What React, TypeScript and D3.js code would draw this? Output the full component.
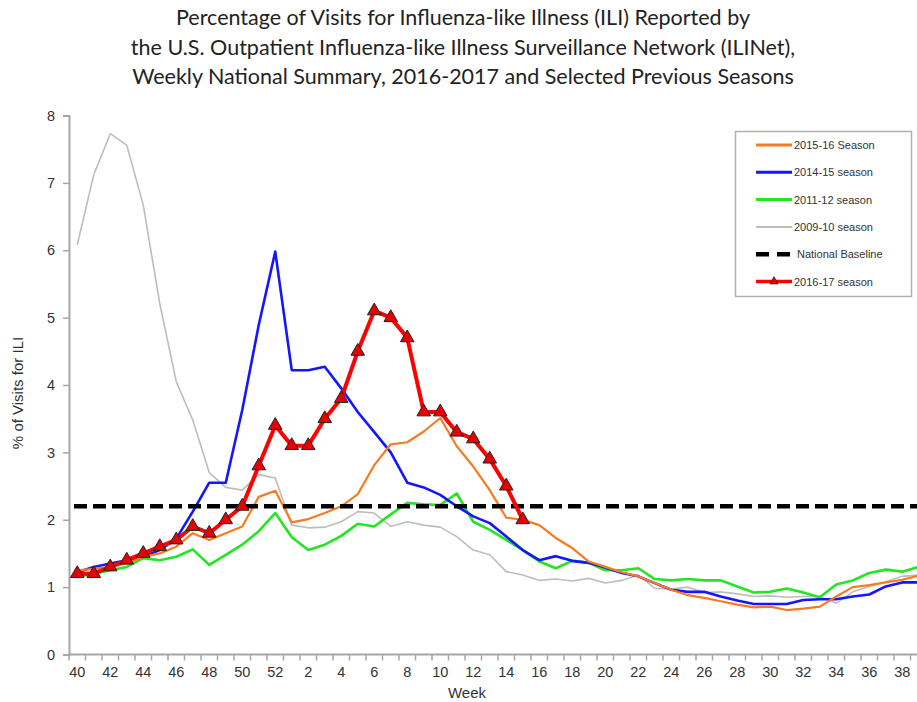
import React, { useEffect, useRef } from 'react'
import * as d3 from 'd3'

// week order of a flu season (week 40 .. week 39)
const weeks = ['40','41','42','43','44','45','46','47','48','49','50','51','52',
  '1','2','3','4','5','6','7','8','9','10','11','12','13','14','15','16','17','18','19','20',
  '21','22','23','24','25','26','27','28','29','30','31','32','33','34','35','36','37','38','39']

const tickLabels = ['40','42','44','46','48','50','52','2','4','6','8','10','12','14','16','18','20',
  '22','24','26','28','30','32','34','36','38']

const season2016 = [1.2,1.2,1.3,1.4,1.5,1.6,1.7,1.9,1.8,2.0,2.2,2.8,3.4,3.1,3.1,3.5,3.8,4.5,5.1,5.0,
  4.7,3.6,3.6,3.3,3.2,2.9,2.5,2.0]

const season2015 = [1.25,1.27,1.3,1.35,1.45,1.5,1.6,1.8,1.7,1.8,1.9,2.34,2.43,
  1.96,2.01,2.1,2.2,2.38,2.81,3.12,3.15,3.31,3.51,3.09,2.79,2.44,2.03,2.0,1.92,1.73,1.58,1.38,1.30,
  1.22,1.16,1.06,0.96,0.88,0.84,0.79,0.74,0.70,0.71,0.66,0.68,0.71,0.86,1.0,1.03,1.07,1.11,1.17]

const season2014 = [1.22,1.3,1.35,1.4,1.45,1.55,1.72,2.12,2.55,2.55,3.63,4.89,5.98,
  4.22,4.22,4.27,3.95,3.6,3.3,3.0,2.55,2.48,2.37,2.2,2.05,1.95,1.75,1.55,1.4,1.46,1.39,1.36,1.29,
  1.21,1.16,1.06,0.96,0.93,0.93,0.86,0.8,0.75,0.75,0.75,0.81,0.82,0.82,0.86,0.89,1.01,1.07,1.07]

const season2011 = [1.15,1.2,1.25,1.3,1.43,1.4,1.45,1.56,1.33,1.48,1.63,1.83,2.1,
  1.74,1.55,1.63,1.76,1.94,1.9,2.08,2.25,2.23,2.22,2.39,1.97,1.85,1.7,1.55,1.38,1.28,1.39,1.36,1.25,
  1.25,1.28,1.12,1.1,1.12,1.1,1.1,1.01,0.92,0.93,0.98,0.92,0.85,1.04,1.1,1.21,1.26,1.23,1.3]

const season2009 = [6.08,7.12,7.73,7.56,6.67,5.21,4.05,3.48,2.7,2.48,2.44,2.67,2.62,
  1.92,1.88,1.89,1.97,2.12,2.1,1.9,1.97,1.92,1.89,1.75,1.55,1.48,1.23,1.18,1.1,1.12,1.09,1.13,1.06,
  1.1,1.18,0.98,0.97,1.0,0.92,0.93,0.9,0.86,0.87,0.85,0.86,0.86,0.76,0.93,1.01,1.08,1.16,1.18]

const baseline = 2.2

const titleLines = [
  'Percentage of Visits for Influenza-like Illness (ILI) Reported by',
  'the U.S. Outpatient Influenza-like Illness Surveillance Network (ILINet),',
  'Weekly National Summary, 2016-2017 and Selected Previous Seasons',
]

export default function App() {
  const ref = useRef<SVGSVGElement>(null)

  useEffect(() => {
    const width = 917
    const svg = d3.select(ref.current)
    svg.selectAll('*').remove()

    const x = d3.scaleBand<string>().domain(weeks).range([69, 69 + 52 * 16.5]).padding(0)
    const y = d3.scaleLinear().domain([0, 8]).range([654.5, 115.5])
    const cx = (w: string) => (x(w) as number) + x.bandwidth() / 2

    // title
    svg.append('g')
      .selectAll('text')
      .data(titleLines)
      .enter()
      .append('text')
      .attr('x', 463)
      .attr('y', (d, i) => 25 + i * 29.5)
      .attr('text-anchor', 'middle')
      .attr('font-family', 'Lato, "Open Sans", sans-serif')
      .attr('font-size', 21.5)
      .attr('fill', '#222')
      .text(d => d)

    const axisColor = '#a6a6a6'
    const fontAxis = '"Liberation Sans", Arial, sans-serif'

    // y axis
    const yAxis = svg.append('g')
      .attr('transform', 'translate(69,0)')
      .call(d3.axisLeft(y).ticks(8).tickSize(6).tickPadding(8))
    yAxis.select('.domain').attr('stroke', axisColor).attr('stroke-width', 2)
    yAxis.selectAll('.tick line').attr('stroke', axisColor).attr('stroke-width', 1.5)
    yAxis.selectAll('.tick text')
      .attr('font-family', fontAxis).attr('font-size', 14.5).attr('fill', '#333')

    // x axis: ticks on week boundaries, labels every 2 weeks
    const xg = svg.append('g')
    xg.append('line')
      .attr('x1', 68).attr('x2', width)
      .attr('y1', y(0)).attr('y2', y(0))
      .attr('stroke', axisColor).attr('stroke-width', 2)
    xg.selectAll('.tk')
      .data(weeks)
      .enter()
      .append('line')
      .attr('x1', d => x(d) as number).attr('x2', d => x(d) as number)
      .attr('y1', y(0)).attr('y2', y(0) + 6)
      .attr('stroke', axisColor).attr('stroke-width', 1.5)
    xg.selectAll('.lbl')
      .data(tickLabels)
      .enter()
      .append('text')
      .attr('x', d => cx(d))
      .attr('y', 677)
      .attr('text-anchor', 'middle')
      .attr('font-family', fontAxis).attr('font-size', 14.5).attr('fill', '#333')
      .text(d => d)

    svg.append('text')
      .attr('x', 467).attr('y', 698)
      .attr('text-anchor', 'middle')
      .attr('font-family', fontAxis).attr('font-size', 15).attr('fill', '#333')
      .text('Week')

    svg.append('text')
      .attr('transform', 'translate(23,393) rotate(-90)')
      .attr('text-anchor', 'middle')
      .attr('font-family', fontAxis).attr('font-size', 15).attr('fill', '#333')
      .text('% of Visits for ILI')

    const line = d3.line<number>()
      .x((d, i) => cx(weeks[i]))
      .y(d => y(d))

    const series = [
      { data: season2009, color: '#bdbdbd', w: 1.6 },
      { data: season2011, color: '#22e622', w: 2.6 },
      { data: season2014, color: '#1515ff', w: 2.6 },
      { data: season2015, color: '#f97a22', w: 2.2 },
    ]

    const plot = svg.append('g')
    series.forEach(s => {
      plot.append('path')
        .datum(s.data)
        .attr('d', line)
        .attr('fill', 'none')
        .attr('stroke', s.color)
        .attr('stroke-width', s.w)
        .attr('stroke-linejoin', 'round')
    })

    plot.append('line')
      .attr('x1', 74).attr('x2', width)
      .attr('y1', y(baseline)).attr('y2', y(baseline))
      .attr('stroke', '#000').attr('stroke-width', 4.5)
      .attr('stroke-dasharray', '13,6')

    plot.append('path')
      .datum(season2016)
      .attr('d', line)
      .attr('fill', 'none')
      .attr('stroke', '#ff0000')
      .attr('stroke-width', 4)
      .attr('stroke-linejoin', 'round')

    const tri = d3.symbol().type(d3.symbolTriangle).size(80)
    plot.selectAll('.mk')
      .data(season2016)
      .enter()
      .append('path')
      .attr('d', tri)
      .attr('transform', (d, i) => `translate(${cx(weeks[i])},${y(d)})`)
      .attr('fill', '#e60000')
      .attr('stroke', '#222')
      .attr('stroke-width', 1)

    // legend
    const legend = svg.append('g')
    legend.append('rect')
      .attr('x', 735.5).attr('y', 131.5).attr('width', 176).attr('height', 165)
      .attr('fill', '#fff').attr('stroke', '#b0b0b0').attr('stroke-width', 1.5)

    const legendItems = [
      { label: '2015-16 Season', color: '#f97a22', dash: null, w: 3, marker: false },
      { label: '2014-15 season', color: '#1515ff', dash: null, w: 3, marker: false },
      { label: '2011-12 season', color: '#22e622', dash: null, w: 3, marker: false },
      { label: '2009-10 season', color: '#bdbdbd', dash: null, w: 2, marker: false },
      { label: 'National Baseline', color: '#000', dash: '13,8', w: 4.5, marker: false },
      { label: '2016-17 season', color: '#ff0000', dash: null, w: 3.5, marker: true },
    ]
    legendItems.forEach((it, i) => {
      const ly = 145 + i * 27.3
      legend.append('line')
        .attr('x1', 756).attr('x2', it.dash ? 790 : 792)
        .attr('y1', ly).attr('y2', ly)
        .attr('stroke', it.color).attr('stroke-width', it.w)
        .attr('stroke-dasharray', it.dash)
      if (it.marker) {
        legend.append('path')
          .attr('d', d3.symbol().type(d3.symbolTriangle).size(30)())
          .attr('transform', `translate(774,${ly})`)
          .attr('fill', '#e60000').attr('stroke', '#222').attr('stroke-width', 0.8)
      }
      legend.append('text')
        .attr('x', it.dash ? 797 : 794).attr('y', ly + 4)
        .attr('font-family', fontAxis).attr('font-size', 11).attr('fill', '#333')
        .text(it.label)
    })
  }, [])

  return (
    <svg
      ref={ref}
      width={917}
      height={702}
      style={{ position: 'absolute', left: 0, top: 0, background: '#fff' }}
    />
  )
}
